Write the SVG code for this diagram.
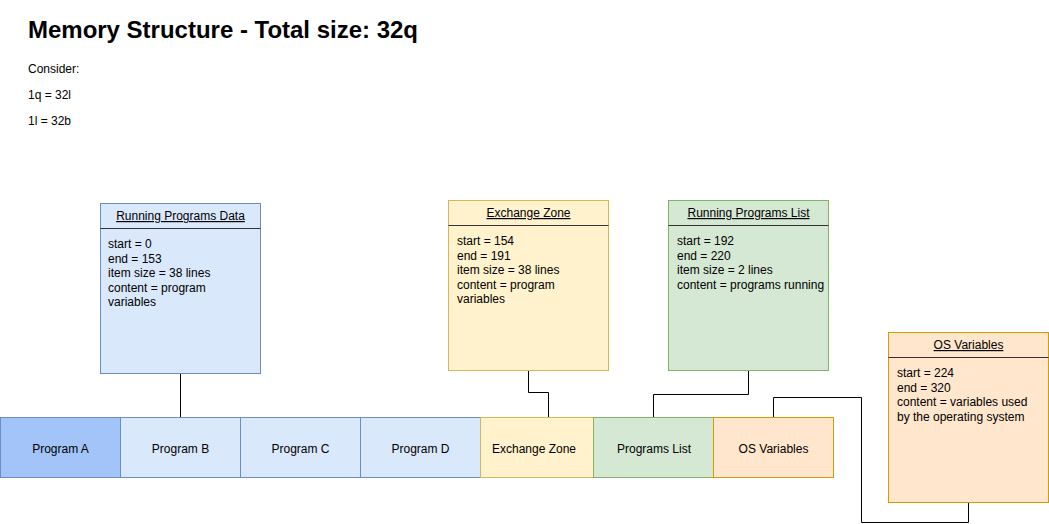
<svg xmlns="http://www.w3.org/2000/svg" width="1049" height="524" viewBox="0 0 1049 524">
<style>
text{font-family:"Liberation Sans",Arial,sans-serif;fill:#000}
.t{font-size:12px;text-anchor:middle}
.b{font-size:12px}
.h{font-size:12px;text-anchor:middle;text-decoration:underline}
.sep{stroke:#333;stroke-width:1}
.blue{fill:#dae8fc;stroke:#6c8ebf}
.yel{fill:#fff2cc;stroke:#d6b656}
.grn{fill:#d5e8d4;stroke:#82b366}
.org{fill:#ffe6cc;stroke:#d79b00}
.c{fill:none;stroke:#000;stroke-width:1}
</style>
<rect width="1049" height="524" fill="#fff"/>
<g id="header">
<text x="28" y="38" textLength="390" lengthAdjust="spacingAndGlyphs" style="font-size:23px;font-weight:bold">Memory Structure - Total size: 32q</text>
<text x="28" y="73" style="font-size:12px">Consider:</text>
<text x="28" y="99" style="font-size:12px">1q = 32l</text>
<text x="28" y="125" style="font-size:12px">1l = 32b</text>
</g>
<g id="connectors">
<path class="c" d="M180.5 373.5V417.5"/>
<path class="c" d="M528.5 370.5V392.5H548.5V417.5"/>
<path class="c" d="M748.5 370.5V394.5H653.5V417.5"/>
<path class="c" d="M773.5 417.5V397.5H861.5V522.5H968.5V501.5"/>
</g>
<g id="programA"><rect x="0.5" y="417.5" width="120" height="60" fill="#a2c4f9" stroke="#6c8ebf"/><text class="t" x="60.5" y="453">Program A</text></g>
<g id="programB"><rect class="blue" x="120.5" y="417.5" width="120" height="60"/><text class="t" x="180.5" y="453">Program B</text></g>
<g id="programC"><rect class="blue" x="240.5" y="417.5" width="120" height="60"/><text class="t" x="300.5" y="453">Program C</text></g>
<g id="programD"><rect class="blue" x="360.5" y="417.5" width="120" height="60"/><text class="t" x="420.5" y="453">Program D</text></g>
<g id="exchangeZoneCell"><rect class="yel" x="480.5" y="417.5" width="113" height="60"/><text class="t" x="534" y="453">Exchange Zone</text></g>
<g id="programsListCell"><rect class="grn" x="593.5" y="417.5" width="120" height="60"/><text class="t" x="654" y="453">Programs List</text></g>
<g id="osVariablesCell"><rect class="org" x="713.5" y="417.5" width="120" height="60"/><text class="t" x="773.5" y="453">OS Variables</text></g>
<g id="runningProgramsData">
<rect class="blue" x="100.5" y="203.5" width="160" height="170"/>
<line class="sep" x1="100.5" y1="228.5" x2="260.5" y2="228.5"/>
<text class="h" x="180.5" y="220">Running Programs Data</text>
<text class="b" x="108" y="248">start = 0</text>
<text class="b" x="108" y="262.5">end = 153</text>
<text class="b" x="108" y="277">item size = 38 lines</text>
<text class="b" x="108" y="291.5">content = program</text>
<text class="b" x="108" y="306">variables</text>
</g>
<g id="exchangeZone">
<rect class="yel" x="448.5" y="200.5" width="160" height="170"/>
<line class="sep" x1="448.5" y1="225.5" x2="608.5" y2="225.5"/>
<text class="h" x="528.5" y="217">Exchange Zone</text>
<text class="b" x="457" y="245">start = 154</text>
<text class="b" x="457" y="259.5">end = 191</text>
<text class="b" x="457" y="274">item size = 38 lines</text>
<text class="b" x="457" y="288.5">content = program</text>
<text class="b" x="457" y="303">variables</text>
</g>
<g id="runningProgramsList">
<rect class="grn" x="668.5" y="200.5" width="160" height="170"/>
<line class="sep" x1="668.5" y1="225.5" x2="828.5" y2="225.5"/>
<text class="h" x="748.5" y="217">Running Programs List</text>
<text class="b" x="677" y="245">start = 192</text>
<text class="b" x="677" y="259.5">end = 220</text>
<text class="b" x="677" y="274">item size = 2 lines</text>
<text class="b" x="677" y="288.5">content = programs running</text>
</g>
<g id="osVariables">
<rect class="org" x="888.5" y="332.5" width="160" height="170"/>
<line class="sep" x1="888.5" y1="357.5" x2="1048.5" y2="357.5"/>
<text class="h" x="968.5" y="349">OS Variables</text>
<text class="b" x="897" y="377">start = 224</text>
<text class="b" x="897" y="391.5">end = 320</text>
<text class="b" x="897" y="406">content = variables used</text>
<text class="b" x="897" y="420.5">by the operating system</text>
</g>
</svg>
